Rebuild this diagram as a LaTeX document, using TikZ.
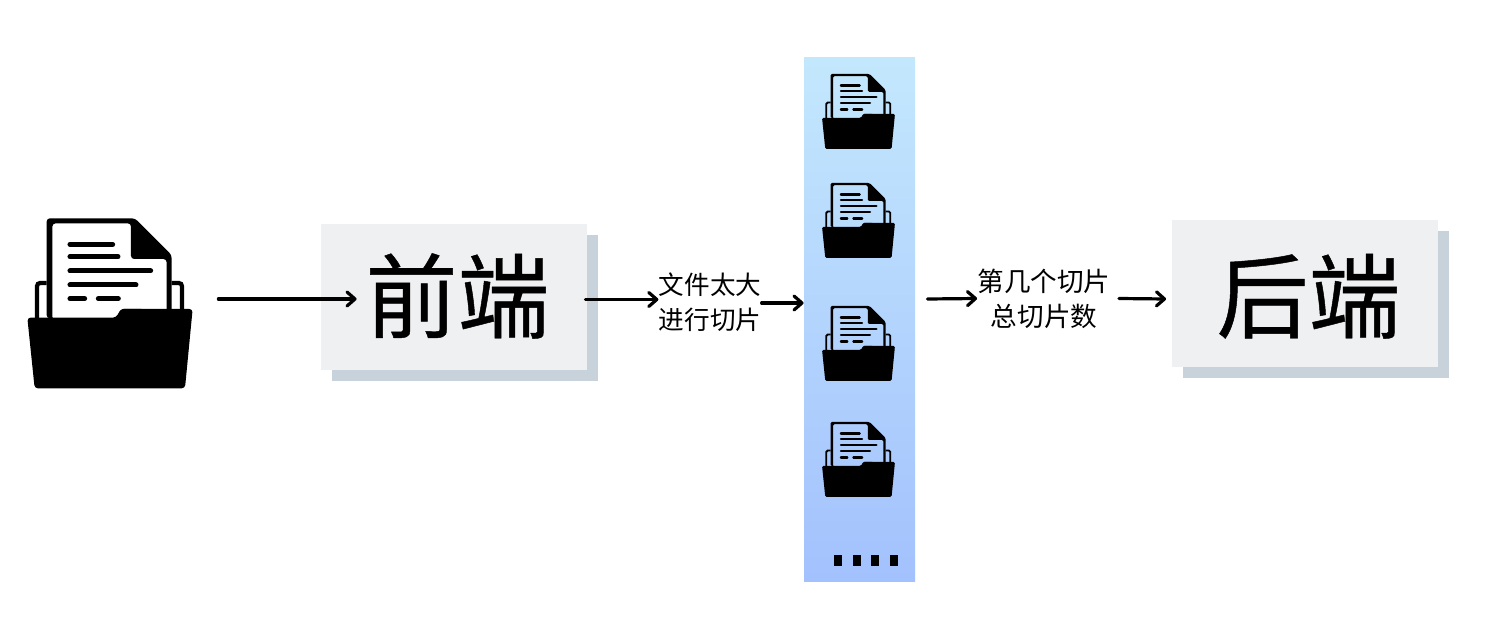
\documentclass[tikz,border=0pt]{standalone}
\usepackage{fontspec}
\newfontfamily\cjk{Noto Sans CJK SC}
\newfontfamily\cjkbig[FakeBold=0.5]{Noto Sans CJK SC}
\usetikzlibrary{arrows.meta}
\definecolor{boxfill}{HTML}{EFF0F2}
\definecolor{boxshade}{HTML}{C8D2DA}
\definecolor{striptop}{HTML}{C3E8FD}
\definecolor{stripbot}{HTML}{A3C1FD}
\tikzset{
  panel/.style={fill=boxfill,draw=none,minimum width=133pt,minimum height=73pt,inner sep=0pt,font=\fontsize{46}{50}\selectfont\cjkbig},
  panelshade/.style={fill=boxshade,draw=none,minimum width=133pt,minimum height=73pt,inner sep=0pt},
  steplabel/.style={align=center,inner sep=0pt,font=\fontsize{12.8}{17.5}\selectfont\cjk},
  metalabel/.style={align=center,inner sep=0pt,font=\fontsize{13.3}{17.5}\selectfont\cjk},
  conn/.style={line width=1.6pt,line cap=round,-{Straight Barb[length=4pt,width=7pt,line width=1.6pt,round]}},
  dot/.style={fill=black,draw=none,minimum width=4pt,minimum height=5.5pt,inner sep=0pt},
  pics/docicon/.style 2 args={code={
    % paper, with its folded corner, and the folder's back tabs
    \fill[black,even odd rule,rounded corners=#1]
      (110,355) -- (110,55) -- (375,55) -- (485,165) -- (485,355) -- cycle
      (127,360) -- (127,70) -- (363,70) -- (363,177) -- (470,177) -- (470,360) -- cycle;
    \draw[black,line width=#2*0.85,rounded corners=#1] (81,360) -- (81,249) -- (110,249);
    \draw[black,line width=#2*0.85,rounded corners=#1] (485,249) -- (516,249) -- (516,335);
    \fill[black,rounded corners=#1]
      (52,353) -- (318,353) -- (333,327) -- (548,327) -- (525,565) -- (74,565) -- cycle;
    \fill[black,rounded corners=#1*0.6] (318,356) -- (333,327) -- (400,327) -- (400,356) -- cycle;
    \foreach \ya/\xa/\xb in {133/180/308,170/180/324,213/180/422,255/180/378,296/180/224,296/265/325}
      \draw[black,line width=#2,line cap=round] (\xa,\ya) -- (\xb,\ya);
  }}
}
\begin{document}
\begin{tikzpicture}[x=0.5pt,y=-0.5pt]
\useasboundingbox (0,0) rectangle (1501,631);
% file icon
\node[minimum width=83pt,minimum height=85pt,inner sep=0pt] (file) at (110,303) {};
\pic[shift={(10,200)},scale=0.3333] {docicon={1.6pt}{2.5pt}};
% front end
\node[panelshade] (frontshade) at (465,308) {};
\node[panel] (front) at (454,297) {\hspace*{3.5pt}\raisebox{-17pt}[20pt][20pt]{前端}};
% back end
\node[panelshade] (backshade) at (1315.5,304.5) {};
\node[panel] (back) at (1304.5,293.5) {\hspace*{4pt}\raisebox{-18.75pt}[20pt][20pt]{后端}};
% strip of pieces
\node[minimum width=55.5pt,minimum height=261.5pt,inner sep=0pt,top color=striptop,bottom color=stripbot,draw=none] (strip) at (859.5,319.5) {};
\pic[shift={(814.4,65.9)},scale=0.147] {docicon={0.7pt}{1.1pt}};
\pic[shift={(814.4,174.9)},scale=0.147] {docicon={0.7pt}{1.1pt}};
\pic[shift={(814.4,297.9)},scale=0.147] {docicon={0.7pt}{1.1pt}};
\pic[shift={(814.4,413.9)},scale=0.147] {docicon={0.7pt}{1.1pt}};
\node[dot] (d1) at (837.7,560) {};
\node[dot] (d2) at (856.7,560) {};
\node[dot] (d3) at (875.3,560) {};
\node[dot] (d4) at (894.3,560) {};
% labels
\node[steplabel] (cut) at (710,302.5) {文件太大\\进行切片};
\node[metalabel] (meta) at (1044,298.5) {第几个切片\\总切片数};
% connectors
\draw[conn] ([xshift=12.5pt,yshift=2pt]file.east) -- ([xshift=18pt,yshift=-1pt]front.west);
\draw[conn] ([xshift=-1pt,yshift=-1.25pt]front.east) -- ([yshift=1.5pt]cut.west);
\draw[conn] ([yshift=-0.25pt]cut.east) -- ([yshift=-0.25pt]strip.west |- cut.east);
\draw[conn] ([xshift=6pt,yshift=10.25pt]strip.east) -- (meta.west);
\draw[conn] ([xshift=4pt]meta.east) -- ([xshift=-2.5pt,yshift=-2.75pt]back.west);
\end{tikzpicture}
\end{document}
